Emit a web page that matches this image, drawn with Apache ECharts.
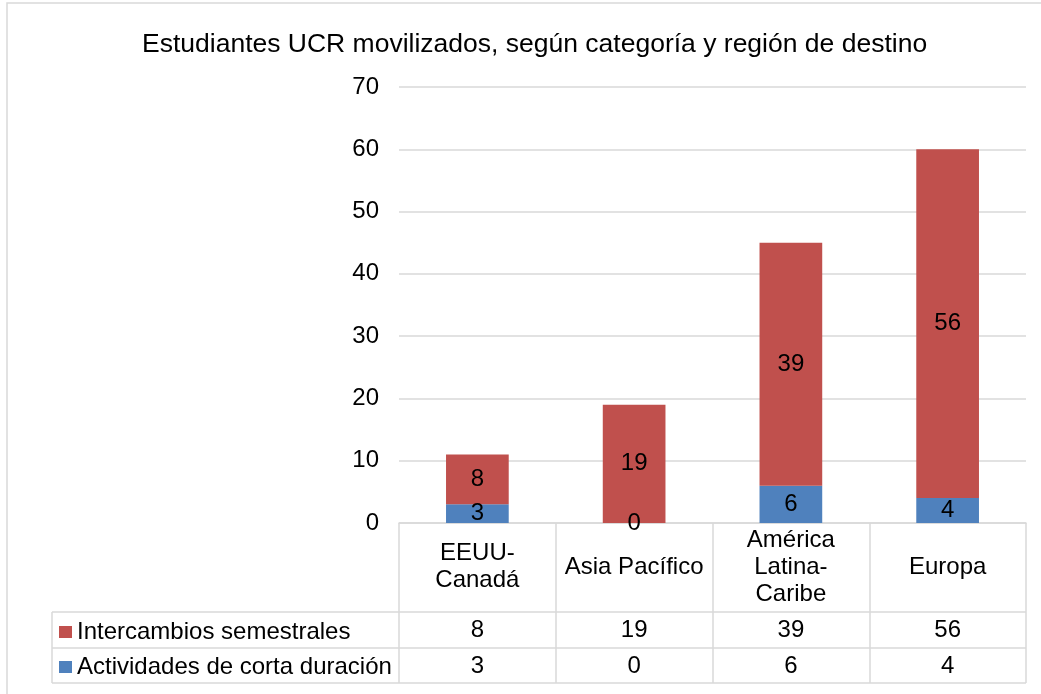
<!DOCTYPE html>
<html>
<head>
<meta charset="utf-8">
<script src="https://cdn.jsdelivr.net/npm/echarts@6/dist/echarts.min.js"></script>
<style>
  html, body { margin: 0; padding: 0; background: #fff; }
  #chart { width: 1041px; height: 694px; }
</style>
</head>
<body>
<div id="chart"></div>
<script>
// data
var categories = ['EEUU-\nCanadá', 'Asia Pacífico', 'América\nLatina-\nCaribe', 'Europa'];
var shortTerm = [3, 0, 6, 4];        // Actividades de corta duración
var semester = [8, 19, 39, 56];      // Intercambios semestrales
var yTicks = { min: 0, max: 70, step: 10 };

var FONT = '"Liberation Sans", Arial, sans-serif';
var FS = 24;
var RED = '#C0504D', BLUE = '#4F81BD', LINE = '#D9D9D9';

var chart = echarts.init(document.getElementById('chart'));

// the value rows of the data table are drawn as extra category axes
function rowAxis(values, margin) {
  return {
    type: 'category',
    data: categories,
    position: 'bottom',
    axisLine: { show: false },
    axisTick: { show: false },
    axisLabel: {
      interval: 0,
      margin: margin,
      verticalAlign: 'middle',
      fontFamily: FONT, fontSize: FS, color: '#000',
      formatter: function (v, i) { return String(values[i]); }
    }
  };
}

var option = {
  animation: false,
  title: {
    text: 'Estudiantes UCR movilizados, según categoría y región de destino',
    left: 137, top: 26,
    textStyle: { fontFamily: FONT, fontSize: 26.5, fontWeight: 'normal', color: '#000' }
  },
  grid: { left: 399, right: 15, top: 87, bottom: 171 },
  legend: {
    orient: 'vertical',
    left: 54, top: 615,
    itemWidth: 13, itemHeight: 12, itemGap: 11,
    icon: 'rect',
    data: ['Intercambios semestrales', 'Actividades de corta duración'],
    textStyle: { fontFamily: FONT, fontSize: FS, lineHeight: 24, color: '#000' }
  },
  xAxis: [
    {
      type: 'category',
      data: categories,
      axisLine: { show: true, lineStyle: { color: LINE, width: 1.5 } },
      axisTick: { show: true, length: 160, lineStyle: { color: LINE, width: 1.5 } },
      axisLabel: {
        interval: 0,
        margin: 44, verticalAlign: 'middle', align: 'center',
        fontFamily: FONT, fontSize: FS, lineHeight: 27, color: '#000'
      }
    },
    rowAxis(semester, 107),
    rowAxis(shortTerm, 143)
  ],
  yAxis: {
    type: 'value',
    min: yTicks.min, max: yTicks.max, interval: yTicks.step,
    axisLine: { show: false },
    axisTick: { show: false },
    axisLabel: { margin: 20, fontFamily: FONT, fontSize: FS, color: '#000' },
    splitLine: { lineStyle: { color: LINE, width: 1.5 } }
  },
  series: [
    {
      name: 'Actividades de corta duración',
      type: 'bar', stack: 'total', barWidth: '40%',
      data: shortTerm,
      itemStyle: { color: BLUE },
      label: { show: true, position: 'inside', fontFamily: FONT, fontSize: FS, color: '#000' }
    },
    {
      name: 'Intercambios semestrales',
      type: 'bar', stack: 'total', barWidth: '40%',
      data: semester,
      itemStyle: { color: RED },
      label: { show: true, position: 'inside', fontFamily: FONT, fontSize: FS, color: '#000' }
    }
  ],
  graphic: [
    // chart frame
    { type: 'rect', shape: { x: 7, y: 3, width: 1045, height: 700 }, style: { fill: null, stroke: LINE, lineWidth: 1.5 }, silent: true },
    // table row lines
    { type: 'line', shape: { x1: 52, y1: 612, x2: 1026, y2: 612 }, style: { stroke: LINE, lineWidth: 1.5 } },
    { type: 'line', shape: { x1: 52, y1: 648, x2: 1026, y2: 648 }, style: { stroke: LINE, lineWidth: 1.5 } },
    { type: 'line', shape: { x1: 52, y1: 683, x2: 1026, y2: 683 }, style: { stroke: LINE, lineWidth: 1.5 } },
    { type: 'line', shape: { x1: 52, y1: 612, x2: 52, y2: 683 }, style: { stroke: LINE, lineWidth: 1.5 } }
  ]
};

chart.setOption(option);
</script>
</body>
</html>
